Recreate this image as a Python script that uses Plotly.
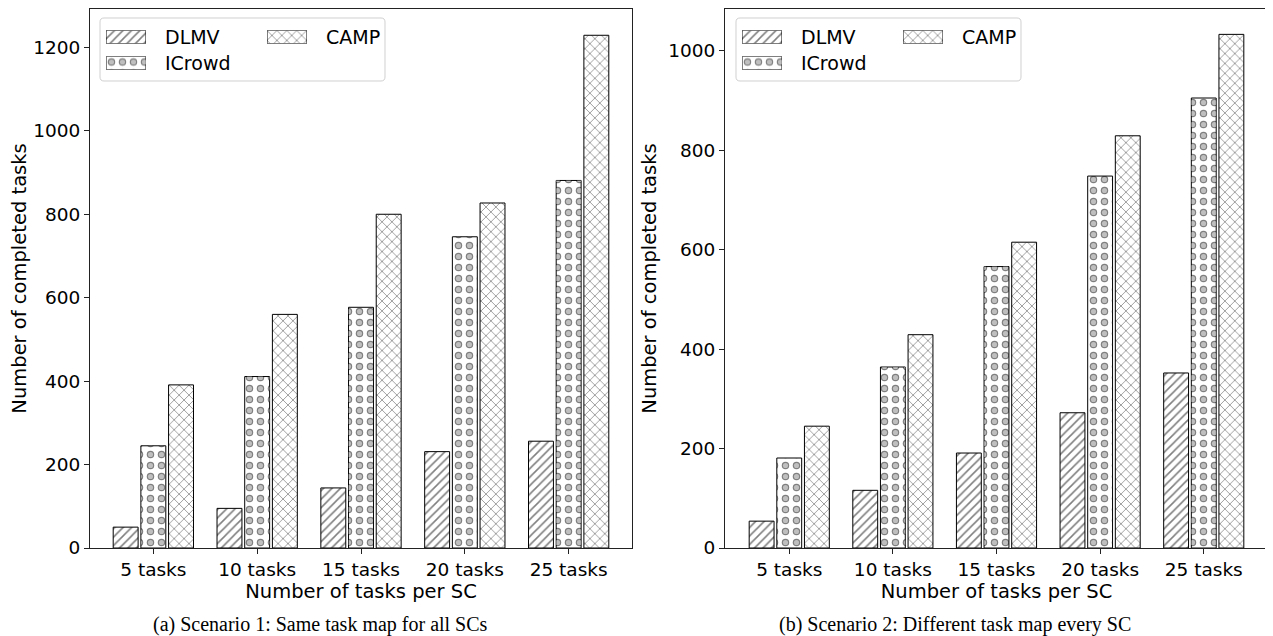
import plotly.graph_objects as go

categories = ["5 tasks", "10 tasks", "15 tasks", "20 tasks", "25 tasks"]
series_names = ["DLMV", "ICrowd", "CAMP"]

s1_dlmv = [50, 95, 144, 231, 256]
s1_icrowd = [245, 411, 577, 746, 881]
s1_camp = [391, 560, 800, 827, 1229]

s2_dlmv = [54, 116, 191, 272, 352]
s2_icrowd = [181, 364, 566, 748, 905]
s2_camp = [245, 429, 615, 829, 1033]

captions = ["(a) Scenario 1: Same task map for all SCs",
            "(b) Scenario 2: Different task map every SC"]
x_title = "Number of tasks per SC"
y_title = "Number of completed tasks"

# page body has an 8px margin, so the figure is a bit smaller and all
# reference pixel positions are shifted by 8px
OFF = 8
FW, FH = 1273 - OFF, 636 - OFF
FONT = "DejaVu Sans"


def px_x(p):
    return (p - OFF) / FW


def px_y(p):
    return 1 - (p - OFF) / FH


LINE = dict(color="black", width=1)
PAT = {
    "DLMV": dict(shape="/", fgcolor="black", bgcolor="white", size=6, solidity=0.26),
    "ICrowd": dict(shape=".", fgcolor="black", bgcolor="white", size=11, solidity=0.36),
    "ICrowd_in": dict(shape=".", fgcolor="white", bgcolor="rgba(0,0,0,0)", size=11, solidity=0.17),
    "CAMP": dict(shape="x", fgcolor="black", bgcolor="white", size=7, solidity=0.2),
}

fig = go.Figure()


def bars(x, y, name, xa, ya, og, width=None):
    kw = {} if width is None else dict(width=width)
    fig.add_trace(go.Bar(
        x=x, y=y, name=name, xaxis=xa, yaxis=ya, offsetgroup=og, showlegend=False,
        marker=dict(color="white", line=LINE, pattern=PAT[name]), **kw))
    if name == "ICrowd":
        fig.add_trace(go.Bar(
            x=x, y=y, name=name, xaxis=xa, yaxis=ya, offsetgroup=og, showlegend=False,
            hoverinfo="skip",
            marker=dict(color="rgba(0,0,0,0)", line=dict(width=0), pattern=PAT["ICrowd_in"]),
            **kw))


for xa, ya, vals in [("x", "y", (s1_dlmv, s1_icrowd, s1_camp)),
                     ("x2", "y2", (s2_dlmv, s2_icrowd, s2_camp))]:
    for name, v, og in zip(series_names, vals, ["a", "b", "c"]):
        bars(categories, v, name, xa, ya, og)

ydom = [px_y(548), px_y(9)]
axis_common = dict(showline=True, linecolor="#222", linewidth=1, mirror=True,
                   ticks="outside", ticklen=5, tickcolor="#222",
                   tickfont=dict(family=FONT, size=18.5, color="black"),
                   showgrid=False, zeroline=False, automargin=False)
title_font = dict(family=FONT, size=19.5, color="black")

layout = dict(
    width=FW, height=FH,
    margin=dict(l=0, r=0, t=0, b=0),
    paper_bgcolor="white", plot_bgcolor="white",
    barmode="group", bargap=0.2, bargroupgap=0.1,
    font=dict(family=FONT, color="black"),
    showlegend=False,
    xaxis=dict(domain=[px_x(90), px_x(632)], anchor="y", range=[-0.61, 4.61],
               title=dict(text=x_title, font=title_font, standoff=0), **axis_common),
    yaxis=dict(domain=ydom, anchor="x", range=[0, 1292], dtick=200,
               title=dict(text=y_title, font=title_font, standoff=6), **axis_common),
    xaxis2=dict(domain=[px_x(725), px_x(1268)], anchor="y2", range=[-0.62, 4.62],
                title=dict(text=x_title, font=title_font, standoff=0), **axis_common),
    yaxis2=dict(domain=ydom, anchor="x2", range=[0, 1084], dtick=200,
                title=dict(text=y_title, font=title_font, standoff=6), **axis_common),
)


# ---- legends: rounded box, pattern swatches (tiny bar subplots), text ----
def rounded_box(x0, y0, x1, y1, r=4):
    def P(x, y):
        return f"{px_x(x):.5f},{px_y(y):.5f}"
    return (f"M {P(x0 + r, y0)} L {P(x1 - r, y0)} Q {P(x1, y0)} {P(x1, y0 + r)} "
            f"L {P(x1, y1 - r)} Q {P(x1, y1)} {P(x1 - r, y1)} "
            f"L {P(x0 + r, y1)} Q {P(x0, y1)} {P(x0, y1 - r)} "
            f"L {P(x0, y0 + r)} Q {P(x0, y0)} {P(x0 + r, y0)} Z")


shapes = []
annotations = []
ax_i = 3
for dx in [0, 636]:
    shapes.append(dict(type="path", xref="paper", yref="paper",
                       path=rounded_box(100 + dx, 18, 385 + dx, 81),
                       line=dict(color="#d0d0d0", width=1),
                       fillcolor="rgba(255,255,255,0.8)", layer="below"))
    entries = [("DLMV", 106, 37), ("ICrowd", 106, 63), ("CAMP", 267, 37)]
    for name, sx, cy in entries:
        sx += dx
        xa, ya = f"x{ax_i}", f"y{ax_i}"
        layout[f"xaxis{ax_i}"] = dict(domain=[px_x(sx), px_x(sx + 40)], anchor=ya,
                                      range=[-0.5, 0.5], visible=False, fixedrange=True)
        layout[f"yaxis{ax_i}"] = dict(domain=[px_y(cy + 6.5), px_y(cy - 6.5)], anchor=xa,
                                      range=[0, 1], visible=False, fixedrange=True)
        bars([0], [1], name, xa, ya, "s", width=1)
        annotations.append(dict(x=px_x(sx + 57), y=px_y(cy), xref="paper", yref="paper",
                                text=name, showarrow=False, xanchor="left", yanchor="middle",
                                font=dict(family=FONT, size=19, color="black")))
        ax_i += 1

for cx, text in [(320, captions[0]), (955, captions[1])]:
    annotations.append(dict(x=px_x(cx), y=px_y(624), xref="paper", yref="paper",
                            text=text, showarrow=False, xanchor="center", yanchor="middle",
                            font=dict(family="Liberation Serif", size=20, color="black")))

layout["shapes"] = shapes
layout["annotations"] = annotations
fig.update_layout(**layout)

fig.write_html("out.html")
